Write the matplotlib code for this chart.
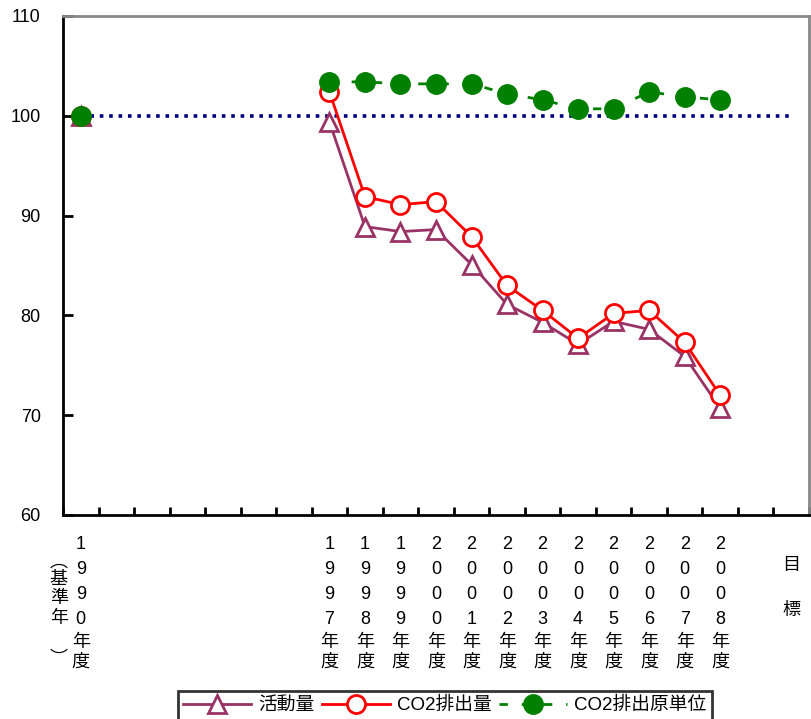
import numpy as np
import matplotlib
matplotlib.use("Agg")
import matplotlib.pyplot as plt

plt.rcParams['font.family'] = ['Liberation Sans', 'Noto Sans CJK JP']

# categories (empty slots keep the spacing of the original sheet)
years = ['1990', '', '', '', '', '', '',
         '1997', '1998', '1999', '2000', '2001', '2002', '2003',
         '2004', '2005', '2006', '2007', '2008', '', '目標']
nan = np.nan
activity = [100.0, nan, nan, nan, nan, nan, nan,
            99.4, 88.9, 88.4, 88.6, 85.1, 81.1, 79.3,
            77.1, 79.4, 78.6, 75.9, 70.7, nan, nan]
co2 = [100.0, nan, nan, nan, nan, nan, nan,
       102.4, 91.9, 91.1, 91.4, 87.9, 83.0, 80.5,
       77.7, 80.2, 80.5, 77.3, 72.0, nan, nan]
intensity = [100.0, nan, nan, nan, nan, nan, nan,
             103.4, 103.4, 103.2, 103.2, 103.2, 102.2, 101.6,
             100.7, 100.7, 102.4, 101.9, 101.6, nan, nan]
base = [100.0] * len(years)

fig = plt.figure(figsize=(8.11, 7.19), dpi=100)
ax = fig.add_axes([63/811, 1-515/719, (809-63)/811, (515-16)/719])

x = np.arange(len(years))
ax.plot(x, base, color='#000080', linestyle=(0, (1, 1.6)), linewidth=2.6, zorder=1)
ax.plot(x, activity, color='#993366', linewidth=2.0, marker='^', markersize=13,
        markerfacecolor='white', markeredgecolor='#993366', markeredgewidth=2.0,
        label='活動量', zorder=2)
ax.plot(x, co2, color='#FF0000', linewidth=2.0, marker='o', markersize=13,
        markerfacecolor='white', markeredgecolor='#FF0000', markeredgewidth=2.0,
        label='CO2排出量', zorder=3)
ax.plot(x, intensity, color='#008000', linewidth=2.0, linestyle=(0, (3, 5)),
        marker='o', markersize=14, markerfacecolor='#008000',
        markeredgecolor='#008000', label='CO2排出原単位', zorder=4)

ax.set_xlim(-0.5, len(years) - 0.5)
ax.set_ylim(60, 110)
ax.set_yticks([60, 70, 80, 90, 100, 110])
ax.tick_params(axis='y', direction='in', length=7, width=2, labelsize=13, pad=16)
ax.set_xticks(np.arange(len(years) + 1) - 0.5)
ax.set_xticklabels([])
ax.tick_params(axis='x', direction='in', length=6, width=2)

ax.spines['left'].set_linewidth(2)
ax.spines['bottom'].set_linewidth(2)
for side in ['top', 'right']:
    ax.spines[side].set_color('#888888')
    ax.spines[side].set_linewidth(2)

# stacked vertical category labels
trans = ax.get_xaxis_transform()
for i, yr in enumerate(years):
    if yr == '':
        continue
    if yr == '目標':
        ax.text(i, -0.085, '目\n\n標', transform=trans, ha='center', va='top',
                fontsize=13, linespacing=1.4)
        continue
    ax.text(i, -0.042, '\n'.join(yr), transform=trans, ha='center', va='top',
            fontsize=13, linespacing=1.62)
    ax.text(i, -0.238, '年\n度', transform=trans, ha='center', va='top',
            fontsize=13, linespacing=1.22)
ax.text(-0.62, -0.112, '基\n準\n年', transform=trans, ha='center', va='top',
        fontsize=13, linespacing=1.2)
ax.text(-0.62, -0.112, '︵', transform=trans, ha='center', va='bottom', fontsize=13)
ax.text(-0.62, -0.272, '︶', transform=trans, ha='center', va='top', fontsize=13)

leg = fig.legend(loc='lower center', bbox_to_anchor=(445/811, -0.014), ncol=3,
                 frameon=True, fancybox=False, edgecolor='black', fontsize=13.5,
                 handlelength=3.6, columnspacing=0.4, handletextpad=0.4,
                 borderpad=0.3)
leg.get_frame().set_linewidth(2)

fig.savefig('out.png', dpi=100)
